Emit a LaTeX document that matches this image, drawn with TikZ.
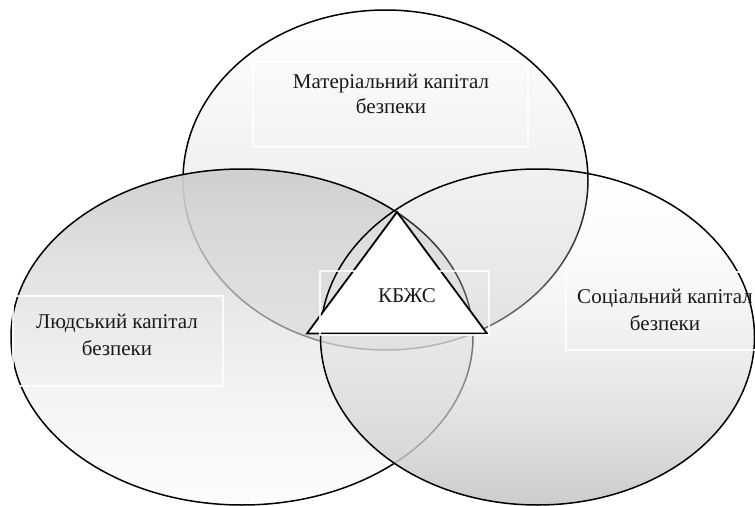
\documentclass[tikz,border=0pt]{standalone}
\usepackage{fontspec}
\setmainfont{Liberation Serif}
\usetikzlibrary{fadings}
\tikzfading[name=fadeL, top color=transparent!3, bottom color=transparent!75]
\tikzfading[name=fadeR, top color=transparent!95, middle color=transparent!70, bottom color=transparent!5]
\definecolor{mTop}{gray}{1.0}
\definecolor{mBot}{gray}{0.88}
\definecolor{lTop}{gray}{0.81}
\definecolor{lBot}{gray}{0.95}
\definecolor{rTop}{gray}{0.98}
\definecolor{rBot}{gray}{0.79}
\tikzset{
  outline/.style={draw=black, line width=1.5pt},
  lbox/.style={draw=white, draw opacity=0.85, line width=1.2pt},
  lbl/.style={font=\fontsize{21}{25}\selectfont, anchor=base, inner sep=0pt, text=black!90}
}
\begin{document}
\begin{tikzpicture}[x=1pt,y=-1pt]
\useasboundingbox (0,0) rectangle (755,506);
\coordinate (cM) at (385.5,180);
\coordinate (cL) at (242,337);
\coordinate (cR) at (537.5,337);
% top ellipse
\path[shade, top color=mTop, bottom color=mBot] (cM) ellipse [x radius=202.5pt, y radius=170pt];
\path[outline] (cM) ellipse [x radius=202.5pt, y radius=170pt];
% left ellipse
\path[shade, top color=lTop, bottom color=lBot, path fading=fadeL] (cL) ellipse [x radius=231pt, y radius=168pt];
\path[outline] (cL) ellipse [x radius=231pt, y radius=168pt];
% right ellipse
\path[shade, top color=rTop, bottom color=rBot, path fading=fadeR] (cR) ellipse [x radius=217pt, y radius=168pt];
\path[outline] (cR) ellipse [x radius=217pt, y radius=168pt];
% triangle
\coordinate (tA) at (397,212);
\coordinate (tB) at (307,333.5);
\coordinate (tC) at (487,333.5);
\draw[fill=white, line width=1.8pt, line join=miter] (tA) -- (tB) -- (tC) -- cycle;
% label boxes
\node[lbox, minimum width=275pt, minimum height=85pt, inner sep=0pt] (bM) at (390.5,104.5) {};
\node[lbox, minimum width=210pt, minimum height=90pt, inner sep=0pt] (bL) at (118,341) {};
\node[lbox, minimum width=200pt, minimum height=78pt, inner sep=0pt] (bR) at (666,311) {};
\node[lbox, minimum width=169pt, minimum height=64pt, inner sep=0pt] (bC) at (404.5,303) {};
% texts
\node[lbl] (m1) at (391,88) {Матеріальний капітал};
\node[lbl] (m2) at (391,113) {безпеки};
\node[lbl] (l1) at (117,328) {Людський капітал};
\node[lbl] (l2) at (117,355) {безпеки};
\node[lbl] (r1) at (665,303) {Соціальний капітал};
\node[lbl] (r2) at (665,330) {безпеки};
\node[lbl] (k) at (407,302) {КБЖС};
\end{tikzpicture}
\end{document}
